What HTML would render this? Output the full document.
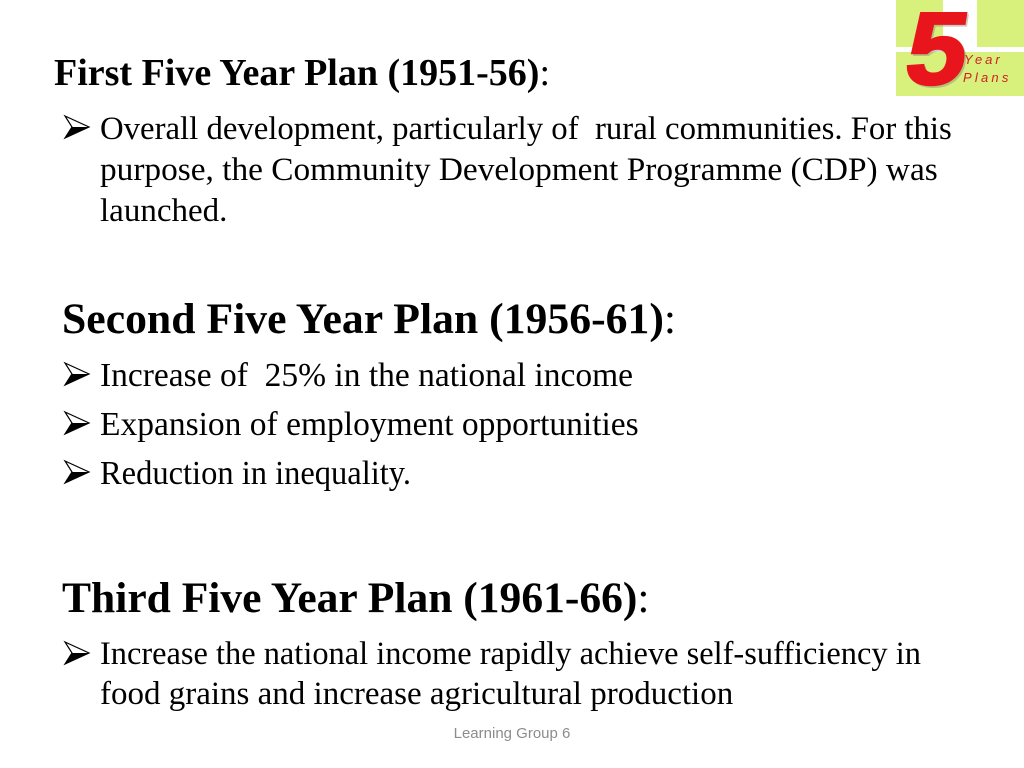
<!DOCTYPE html>
<html>
<head>
<meta charset="utf-8">
<style>
  html, body { margin:0; padding:0; }
  body { width:1024px; height:768px; background:#ffffff; position:relative; overflow:hidden; }
  .t { position:absolute; white-space:pre; font-family:"Liberation Serif", serif; color:#000; transform-origin:left top; }
  .h { font-weight:bold; }
  .h span { font-weight:normal; }
  .b { font-size:33px; line-height:33px; }
  svg { position:absolute; left:0; top:0; }
  .foot { position:absolute; left:0; width:1024px; text-align:center; top:725px; font-family:"Liberation Sans", sans-serif; font-size:15px; line-height:18px; color:#8c8c8c; }
</style>
</head>
<body>

<svg width="1024" height="768" viewBox="0 0 1024 768">
  <!-- logo background -->
  <rect x="896" y="0" width="47" height="47" fill="#d8f07c"/>
  <rect x="977" y="0" width="47" height="47" fill="#d8f07c"/>
  <rect x="896" y="52" width="128" height="44" fill="#d8f07c"/>
  <!-- 5 -->
  <g transform="translate(902,84) skewX(-9) scale(1.04,0.99)">
    <text x="2" y="2" font-family="Liberation Sans, sans-serif" font-size="104" font-weight="bold" fill="#8a8a7a" opacity="0.45" stroke="#8a8a7a" stroke-width="2">5</text>
    <text x="0" y="0" font-family="Liberation Sans, sans-serif" font-size="104" font-weight="bold" fill="#e8161c" stroke="#e8161c" stroke-width="2.5">5</text>
  </g>
  <text x="964" y="64" font-family="Liberation Sans, sans-serif" font-size="13" font-style="italic" letter-spacing="3" fill="#d01f24">Year</text>
  <text x="963" y="82" font-family="Liberation Sans, sans-serif" font-size="13" font-style="italic" letter-spacing="3.2" fill="#d01f24">Plans</text>

  <!-- bullet arrows -->
  <g transform="translate(65,116)">
    <polygon points="0,0 24,11 0,22 7,11" fill="#fff" stroke="#000" stroke-width="1.2" stroke-linejoin="miter"/>
    <polygon points="7,11 24,11 0,22" fill="#000"/>
  </g>
  <g transform="translate(65,363)">
    <polygon points="0,0 24,11 0,22 7,11" fill="#fff" stroke="#000" stroke-width="1.2"/>
    <polygon points="7,11 24,11 0,22" fill="#000"/>
  </g>
  <g transform="translate(65,412)">
    <polygon points="0,0 24,11 0,22 7,11" fill="#fff" stroke="#000" stroke-width="1.2"/>
    <polygon points="7,11 24,11 0,22" fill="#000"/>
  </g>
  <g transform="translate(65,461)">
    <polygon points="0,0 24,11 0,22 7,11" fill="#fff" stroke="#000" stroke-width="1.2"/>
    <polygon points="7,11 24,11 0,22" fill="#000"/>
  </g>
  <g transform="translate(65,642)">
    <polygon points="0,0 24,11 0,22 7,11" fill="#fff" stroke="#000" stroke-width="1.2"/>
    <polygon points="7,11 24,11 0,22" fill="#000"/>
  </g>
</svg>

<!-- Section 1 -->
<div class="t h" style="left:54px; top:54px; font-size:38px; line-height:38px;">First Five Year Plan (1951-56)<span>:</span></div>
<div class="t b" style="left:100px; top:113px; transform:scaleX(0.993);">Overall development, particularly of  rural communities. For this</div>
<div class="t b" style="left:100px; top:154px; transform:scaleX(1.01);">purpose, the Community Development Programme (CDP) was</div>
<div class="t b" style="left:100px; top:195px;">launched.</div>

<!-- Section 2 -->
<div class="t h" style="left:62px; top:298px; font-size:43px; line-height:43px; transform:scaleX(1.016);">Second Five Year Plan (1956-61)<span>:</span></div>
<div class="t" style="left:100px; top:359px; font-size:33.5px; line-height:33.5px;">Increase of  25% in the national income</div>
<div class="t" style="left:100px; top:408px; font-size:33.5px; line-height:33.5px;">Expansion of employment opportunities</div>
<div class="t" style="left:100px; top:457px; font-size:33.5px; line-height:33.5px; transform:scaleX(0.97);">Reduction in inequality.</div>

<!-- Section 3 -->
<div class="t h" style="left:62px; top:577px; font-size:43px; line-height:43px; transform:scaleX(1.012);">Third Five Year Plan (1961-66)<span>:</span></div>
<div class="t b" style="left:100px; top:638px; transform:scaleX(0.982);">Increase the national income rapidly achieve self-sufficiency in</div>
<div class="t b" style="left:100px; top:678px;">food grains and increase agricultural production</div>

<div class="foot">Learning Group 6</div>

</body>
</html>
